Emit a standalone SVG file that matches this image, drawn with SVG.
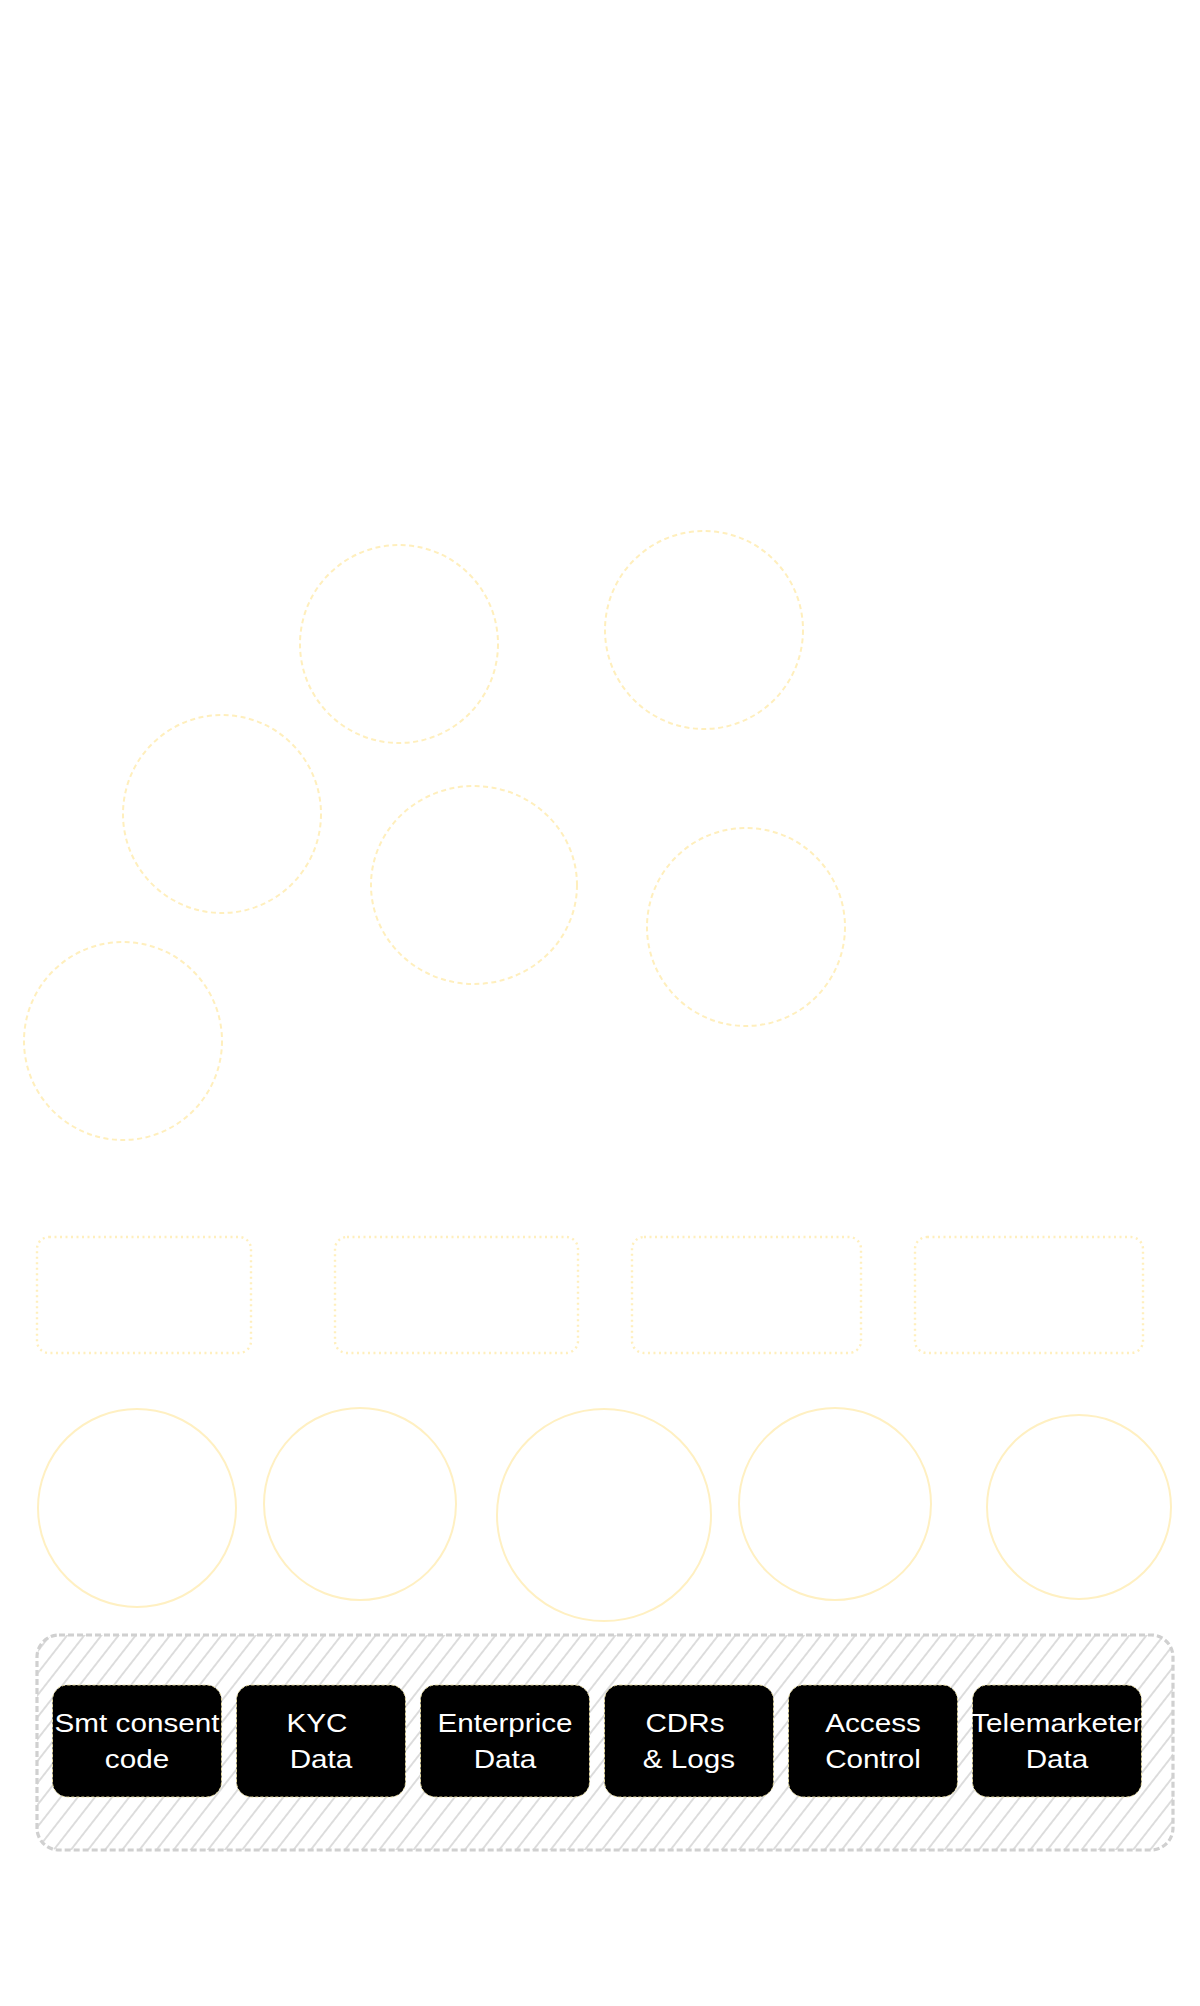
<svg xmlns="http://www.w3.org/2000/svg" width="1200" height="2006" viewBox="0 0 1200 2006">
<style>
.dc{fill:none;stroke:#ffefbd;stroke-width:2;stroke-dasharray:5 3.5}
.dr{fill:none;stroke:#ffefbd;stroke-width:2.4;stroke-dasharray:2 3.5}
.se{fill:none;stroke:#fff0c2;stroke-width:2}
.bx{fill:#000;stroke:#e8dca0;stroke-width:1;stroke-dasharray:3 2}
.lb{font-family:"Liberation Sans",Arial,sans-serif;font-size:26.5px;fill:#fff;text-anchor:middle}
</style>
<defs>
<pattern id="hatch" width="13.5" height="13.5" patternUnits="userSpaceOnUse" patternTransform="rotate(38)">
<line x1="6.75" y1="-1" x2="6.75" y2="14.5" stroke="#cfcfcf" stroke-width="1.4"/>
</pattern>
</defs>
<rect width="1200" height="2006" fill="#fff"/>
<g id="connectors"/>
<g id="circle-1"><circle class="dc" cx="399" cy="644" r="99"/></g>
<g id="circle-2"><circle class="dc" cx="704" cy="630" r="99"/></g>
<g id="circle-3"><circle class="dc" cx="222" cy="814" r="99"/></g>
<g id="circle-4"><ellipse class="dc" cx="474" cy="885" rx="103" ry="99"/></g>
<g id="circle-5"><circle class="dc" cx="746" cy="927" r="99"/></g>
<g id="circle-6"><circle class="dc" cx="123" cy="1041" r="99"/></g>
<g id="rect-1"><rect class="dr" x="37" y="1237" width="214" height="116" rx="12"/></g>
<g id="rect-2"><rect class="dr" x="335" y="1237" width="243" height="116" rx="12"/></g>
<g id="rect-3"><rect class="dr" x="632" y="1237" width="229" height="116" rx="12"/></g>
<g id="rect-4"><rect class="dr" x="915" y="1237" width="228" height="116" rx="12"/></g>
<g id="ellipse-1"><circle class="se" cx="137" cy="1508" r="99"/></g>
<g id="ellipse-2"><circle class="se" cx="360" cy="1504" r="96"/></g>
<g id="ellipse-3"><ellipse class="se" cx="604" cy="1515" rx="107" ry="106"/></g>
<g id="ellipse-4"><circle class="se" cx="835" cy="1504" r="96"/></g>
<g id="ellipse-5"><circle class="se" cx="1079" cy="1507" r="92"/></g>
<g id="data-layer"><rect x="37" y="1635" width="1136" height="215" rx="22" fill="url(#hatch)" stroke="#d0d0d0" stroke-width="3.2" stroke-dasharray="6 3"/></g>
<g id="smt-consent-code"><rect class="bx" x="52.5" y="1685" width="169" height="112" rx="15"/><g transform="translate(137 0) scale(1.12 1)"><text class="lb"><tspan x="0" y="1732">Smt consent</tspan><tspan x="0" y="1768">code</tspan></text></g></g>
<g id="kyc-data"><rect class="bx" x="236.5" y="1685" width="169" height="112" rx="15"/><g transform="translate(321 0) scale(1.12 1)"><text class="lb"><tspan x="-3.6" y="1732">KYC</tspan><tspan x="0" y="1768">Data</tspan></text></g></g>
<g id="enterprice-data"><rect class="bx" x="420.5" y="1685" width="169" height="112" rx="15"/><g transform="translate(505 0) scale(1.12 1)"><text class="lb"><tspan x="0" y="1732">Enterprice</tspan><tspan x="0" y="1768">Data</tspan></text></g></g>
<g id="cdrs-logs"><rect class="bx" x="604.5" y="1685" width="169" height="112" rx="15"/><g transform="translate(689 0) scale(1.12 1)"><text class="lb"><tspan x="-3.6" y="1732">CDRs</tspan><tspan x="0" y="1768">&amp; Logs</tspan></text></g></g>
<g id="access-control"><rect class="bx" x="788.5" y="1685" width="169" height="112" rx="15"/><g transform="translate(873 0) scale(1.12 1)"><text class="lb"><tspan x="0" y="1732">Access</tspan><tspan x="0" y="1768">Control</tspan></text></g></g>
<g id="telemarketer-data"><rect class="bx" x="972.5" y="1685" width="169" height="112" rx="15"/><g transform="translate(1057 0) scale(1.12 1)"><text class="lb"><tspan x="0" y="1732">Telemarketer</tspan><tspan x="0" y="1768">Data</tspan></text></g></g>
</svg>
